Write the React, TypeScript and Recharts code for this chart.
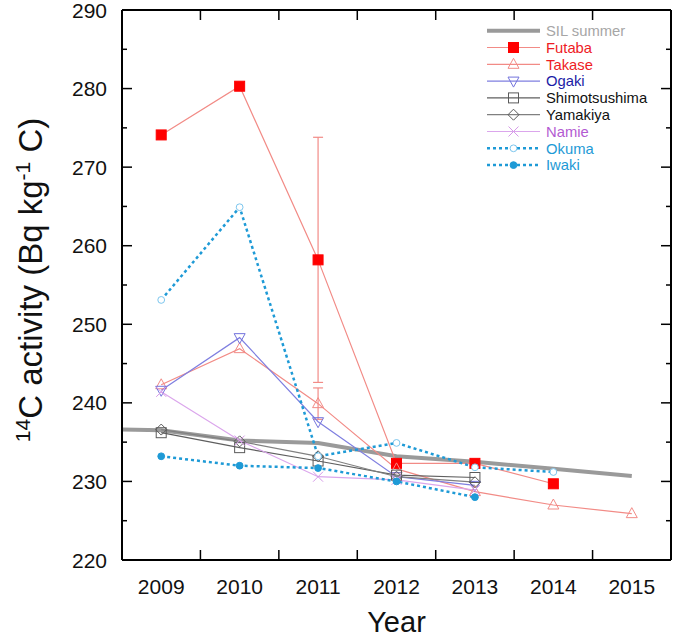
import React from 'react';
import { LineChart, Line, XAxis, YAxis, ErrorBar, Legend } from 'recharts';

// ---------- data ----------
const silYears = [2008.5, 2009, 2010, 2011, 2012, 2013, 2014, 2015];
const silValues = [236.6, 236.5, 235.2, 234.9, 233.2, 232.5, 231.6, 230.7];

const futabaYears = [2009, 2010, 2011, 2012, 2013, 2014];
const futabaValues = [274.1, 280.3, 258.2, 232.3, 232.3, 229.7];
const futabaErrors = [null, null, 15.6, null, null, null];

const takaseYears = [2009, 2010, 2011, 2012, 2013, 2014, 2015];
const takaseValues = [242.3, 246.9, 239.9, 231.6, 228.7, 227.0, 225.9];
const takaseErrors = [null, null, 2.0, null, null, null, null];

const siteYears = [2009, 2010, 2011, 2012, 2013];
const ogakiValues = [241.6, 248.3, 237.6, 230.6, 229.5];
const shimotsushimaValues = [236.2, 234.3, 232.6, 230.8, 230.5];
const yamakiyaValues = [236.6, 235.1, 233.2, 230.6, 229.9];
const namieValues = [241.4, 235.2, 230.6, 230.2, 228.9];
const iwakiValues = [233.2, 232.0, 231.7, 230.0, 228.0];

const okumaYears = [2009, 2010, 2011, 2012, 2013, 2014];
const okumaValues = [253.1, 264.9, 233.2, 234.9, 231.8, 231.2];

const yMajorTicks = [220, 230, 240, 250, 260, 270, 280, 290];
const yMinorTicks = [225, 235, 245, 255, 265, 275, 285];
const xLabelYears = [2009, 2010, 2011, 2012, 2013, 2014, 2015];
const xTickYears = [2009.5, 2010.5, 2011.5, 2012.5, 2013.5, 2014.5];

const toData = (xs: number[], vs: number[], errs?: (number | null)[]) =>
  xs.map((x, i) => ({ x, v: vs[i], err: errs ? errs[i] ?? undefined : undefined }));

const FONT = '"Liberation Sans", Arial, Helvetica, sans-serif';

type Kind = 'none' | 'square' | 'triUp' | 'triDown' | 'diamond' | 'cross' | 'circle';

interface Series {
  name: string;
  data: { x: number; v: number; err?: number }[];
  lineColor: string;
  lineWidth: number;
  dash?: string;
  kind: Kind;
  markerStroke: string;
  markerFill: string;
  textColor: string;
  hasErr?: boolean;
}

const series: Series[] = [
  { name: 'SIL summer', data: toData(silYears, silValues), lineColor: '#9a9a9a', lineWidth: 4, kind: 'none', markerStroke: '#9a9a9a', markerFill: 'none', textColor: '#a6a6a6' },
  { name: 'Futaba', data: toData(futabaYears, futabaValues, futabaErrors), lineColor: '#f28b86', lineWidth: 1.2, kind: 'square', markerStroke: '#ff0000', markerFill: '#ff0000', textColor: '#ee1c25', hasErr: true },
  { name: 'Takase', data: toData(takaseYears, takaseValues, takaseErrors), lineColor: '#f28b86', lineWidth: 1.2, kind: 'triUp', markerStroke: '#f28b86', markerFill: 'none', textColor: '#ee1c25', hasErr: true },
  { name: 'Ogaki', data: toData(siteYears, ogakiValues), lineColor: '#7f7fe0', lineWidth: 1.2, kind: 'triDown', markerStroke: '#7373dc', markerFill: 'none', textColor: '#1c1ca6' },
  { name: 'Shimotsushima', data: toData(siteYears, shimotsushimaValues), lineColor: '#5f5f5f', lineWidth: 1.2, kind: 'square', markerStroke: '#5a5a5a', markerFill: 'none', textColor: '#111111' },
  { name: 'Yamakiya', data: toData(siteYears, yamakiyaValues), lineColor: '#808080', lineWidth: 1.2, kind: 'diamond', markerStroke: '#5a5a5a', markerFill: 'none', textColor: '#111111' },
  { name: 'Namie', data: toData(siteYears, namieValues), lineColor: '#dba6ec', lineWidth: 1.2, kind: 'cross', markerStroke: '#d69ae8', markerFill: 'none', textColor: '#b35ad2' },
  { name: 'Okuma', data: toData(okumaYears, okumaValues), lineColor: '#1e9ad6', lineWidth: 2.5, dash: '3 3', kind: 'circle', markerStroke: '#7cc6ee', markerFill: '#ffffff', textColor: '#1e9ad6' },
  { name: 'Iwaki', data: toData(siteYears, iwakiValues), lineColor: '#1e9ad6', lineWidth: 2.5, dash: '3 3', kind: 'circle', markerStroke: '#1e9ad6', markerFill: '#1e9ad6', textColor: '#1e9ad6' },
];

function Marker({ kind, cx, cy, stroke, fill }: { kind: Kind; cx: number; cy: number; stroke: string; fill: string }) {
  if (cx == null || cy == null || kind === 'none') return null;
  switch (kind) {
    case 'square':
      return <rect x={cx - 5} y={cy - 5} width={10} height={10} fill={fill} stroke={stroke} strokeWidth={1} />;
    case 'triUp':
      return <polygon points={`${cx},${cy - 6} ${cx - 5.5},${cy + 4} ${cx + 5.5},${cy + 4}`} fill={fill} stroke={stroke} strokeWidth={1} />;
    case 'triDown':
      return <polygon points={`${cx},${cy + 6} ${cx - 5.5},${cy - 4} ${cx + 5.5},${cy - 4}`} fill={fill} stroke={stroke} strokeWidth={1} />;
    case 'diamond':
      return <polygon points={`${cx},${cy - 5.5} ${cx + 5.5},${cy} ${cx},${cy + 5.5} ${cx - 5.5},${cy}`} fill={fill} stroke={stroke} strokeWidth={1} />;
    case 'cross':
      return (
        <g stroke={stroke} strokeWidth={1}>
          <line x1={cx - 5} y1={cy - 5} x2={cx + 5} y2={cy + 5} />
          <line x1={cx - 5} y1={cy + 5} x2={cx + 5} y2={cy - 5} />
        </g>
      );
    case 'circle':
      return <circle cx={cx} cy={cy} r={3.4} fill={fill} stroke={stroke} strokeWidth={1} />;
  }
  return null;
}

const makeDot = (s: Series) => (p: any) => (
  <Marker key={`${s.name}-${p.index}`} kind={s.kind} cx={p.cx} cy={p.cy} stroke={s.markerStroke} fill={s.markerFill} />
);

// ---------- axis ticks ----------
const Y_MARGIN = 15;
function LeftTick(props: any) {
  const { x, y, payload } = props;
  const v = payload.value;
  const axisX = x + Y_MARGIN;
  const major = yMajorTicks.includes(v);
  return (
    <g>
      <line x1={axisX} x2={axisX + (major ? 10 : 5)} y1={y} y2={y} stroke="#000" strokeWidth={1.5} />
      {major && (
        <text x={x} y={y + 7.5} textAnchor="end" fontFamily={FONT} fontSize={21} fill="#111">
          {v}
        </text>
      )}
    </g>
  );
}
function RightTick(props: any) {
  const { x, y, payload } = props;
  const v = payload.value;
  const major = yMajorTicks.includes(v);
  return <line x1={x} x2={x - (major ? 10 : 5)} y1={y} y2={y} stroke="#000" strokeWidth={1.5} />;
}
function BottomTick(props: any) {
  const { x, y, payload } = props;
  const v = payload.value;
  if (xLabelYears.includes(v)) {
    return (
      <text x={x} y={y + 33.5} textAnchor="middle" fontFamily={FONT} fontSize={21} fill="#111">
        {v}
      </text>
    );
  }
  return <line x1={x} x2={x} y1={y} y2={y - 10} stroke="#000" strokeWidth={1.5} />;
}
function TopTick(props: any) {
  const { x, y } = props;
  return <line x1={x} x2={x} y1={y} y2={y + 10} stroke="#000" strokeWidth={1.5} />;
}

function YTitle(props: any) {
  const vb = props.viewBox || { x: 0, y: 10, width: 122, height: 550 };
  const cx = vb.x + 42;
  const cy = vb.y + vb.height / 2 - 5;
  return (
    <text
      x={cx}
      y={cy}
      transform={`rotate(-90, ${cx}, ${cy})`}
      textAnchor="middle"
      fontFamily={FONT}
      fontSize={33}
      fill="#111"
    >
      <tspan fontSize={21} dy={-12}>14</tspan>
      <tspan dy={12}>C activity (Bq kg</tspan>
      <tspan fontSize={21} dy={-12}>-1</tspan>
      <tspan dy={12}> C)</tspan>
    </text>
  );
}
function XTitle(props: any) {
  const vb = props.viewBox || { x: 122, y: 560, width: 549, height: 80 };
  return (
    <text x={vb.x + vb.width / 2} y={vb.y + 72} textAnchor="middle" fontFamily={FONT} fontSize={29} fill="#111">
      Year
    </text>
  );
}

function LegendBox() {
  const rowH = 16.8;
  return (
    <svg width={195} height={160} style={{ display: 'block' }}>
      {series.map((s, i) => {
        const y = 10.7 + i * rowH;
        return (
          <g key={s.name}>
            <line x1={9} x2={62} y1={y} y2={y} stroke={s.lineColor} strokeWidth={s.lineWidth} strokeDasharray={s.dash} />
            <Marker kind={s.kind} cx={35.5} cy={y} stroke={s.markerStroke} fill={s.markerFill} />
            <text x={68} y={y + 5.3} fontFamily={FONT} fontSize={14.8} fill={s.textColor}>
              {s.name}
            </text>
          </g>
        );
      })}
    </svg>
  );
}

export default function App() {
  return (
    <div style={{ position: 'absolute', left: 0, top: 0, width: 675, height: 640, background: '#fff' }}>
      <LineChart width={675} height={640} margin={{ top: 0, right: 0, bottom: 0, left: 0 }}>
        <XAxis
          xAxisId="bottom"
          dataKey="x"
          type="number"
          domain={[2008.5, 2015.5]}
          allowDataOverflow
          ticks={[...xLabelYears, ...xTickYears].sort((a, b) => a - b)}
          interval={0}
          height={80}
          tickSize={0}
          tickMargin={0}
          tickLine={false}
          axisLine={{ stroke: '#000', strokeWidth: 2 }}
          tick={<BottomTick />}
          label={<XTitle />}
        />
        <XAxis
          xAxisId="top"
          orientation="top"
          dataKey="x"
          type="number"
          domain={[2008.5, 2015.5]}
          allowDataOverflow
          ticks={xTickYears}
          interval={0}
          height={10}
          tickSize={0}
          tickMargin={0}
          tickLine={false}
          axisLine={{ stroke: '#000', strokeWidth: 2 }}
          tick={<TopTick />}
        />
        <YAxis
          yAxisId="left"
          type="number"
          domain={[220, 290]}
          allowDataOverflow
          ticks={[...yMajorTicks, ...yMinorTicks].sort((a, b) => a - b)}
          interval={0}
          width={122}
          tickSize={0}
          tickMargin={Y_MARGIN}
          tickLine={false}
          axisLine={{ stroke: '#000', strokeWidth: 2 }}
          tick={<LeftTick />}
          label={<YTitle />}
        />
        <YAxis
          yAxisId="right"
          orientation="right"
          type="number"
          domain={[220, 290]}
          allowDataOverflow
          ticks={[...yMajorTicks, ...yMinorTicks].sort((a, b) => a - b)}
          interval={0}
          width={4}
          tickSize={0}
          tickMargin={0}
          tickLine={false}
          axisLine={{ stroke: '#000', strokeWidth: 2 }}
          tick={<RightTick />}
        />
        {series.map((s) => (
          <Line
            key={s.name}
            xAxisId="bottom"
            yAxisId="left"
            data={s.data}
            dataKey="v"
            name={s.name}
            type="linear"
            stroke={s.lineColor}
            strokeWidth={s.lineWidth}
            strokeDasharray={s.dash}
            dot={s.kind === 'none' ? false : makeDot(s)}
            activeDot={false}
            isAnimationActive={false}
            legendType="none"
          >
            {s.hasErr && (
              <ErrorBar dataKey="err" direction="y" width={5} stroke={s.lineColor} strokeWidth={1.2} isAnimationActive={false} />
            )}
          </Line>
        ))}
        <Legend
          layout="vertical"
          align="center"
          verticalAlign="middle"
          content={() => <LegendBox />}
          wrapperStyle={{ position: 'absolute', left: 478, top: 20, width: 195, height: 160 }}
        />
      </LineChart>
    </div>
  );
}
